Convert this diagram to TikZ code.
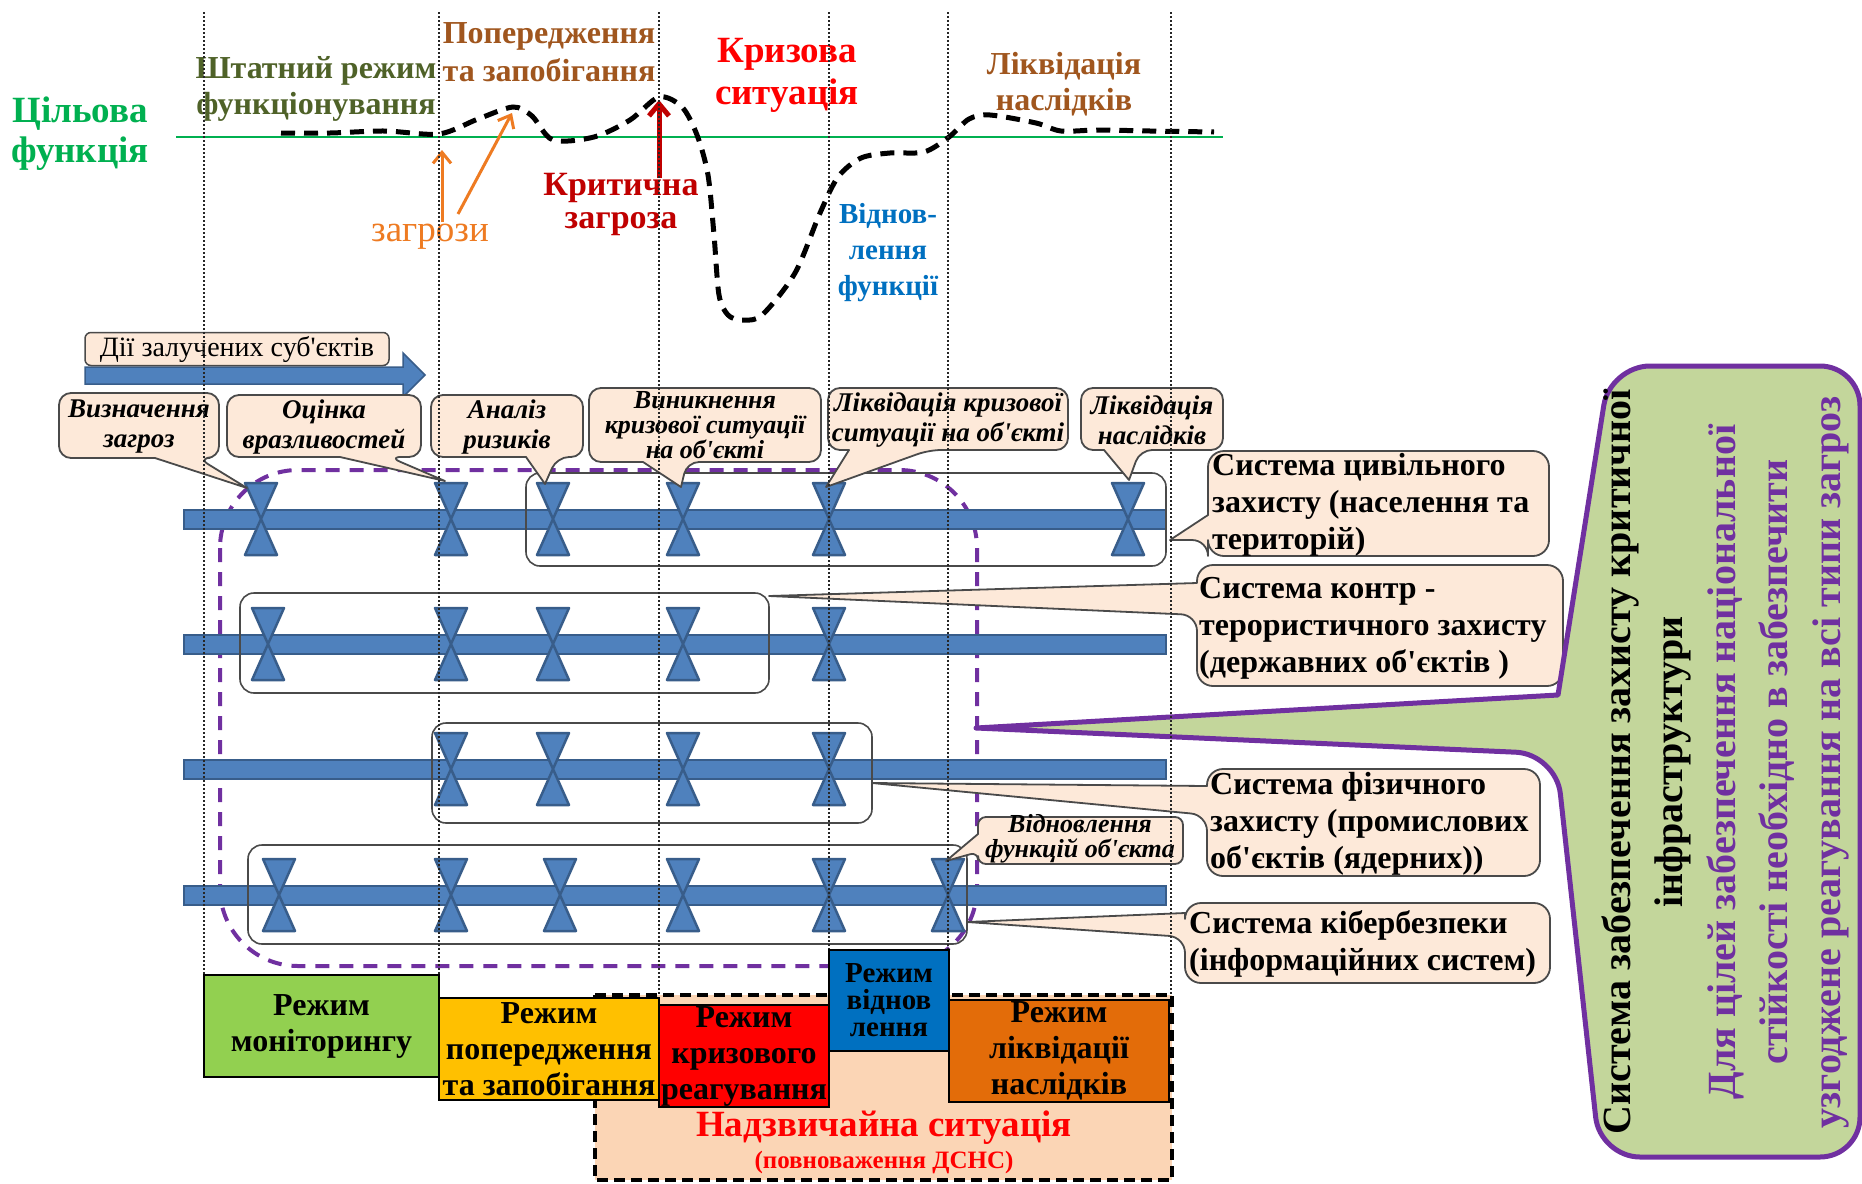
\documentclass[tikz,border=0pt]{standalone}
\usepackage{fontspec}
\setmainfont{Liberation Serif}
\usetikzlibrary{arrows.meta}
\definecolor{tgreen}{HTML}{00B050}
\definecolor{olivec}{HTML}{4F6228}
\definecolor{brownc}{HTML}{A0561E}
\definecolor{crisisred}{HTML}{FF0000}
\definecolor{darkredc}{HTML}{C00000}
\definecolor{orangec}{HTML}{EE7B22}
\definecolor{bluec}{HTML}{0070C0}
\definecolor{pipe}{HTML}{4F81BD}
\definecolor{pipeedge}{HTML}{385D8A}
\definecolor{peach}{HTML}{FDE9D9}
\definecolor{purp}{HTML}{7030A0}
\definecolor{sage}{HTML}{C3D69B}
\definecolor{mgreen}{HTML}{92D050}
\definecolor{myellow}{HTML}{FFC000}
\definecolor{mblue}{HTML}{0070C0}
\definecolor{morange}{HTML}{E36C09}
\definecolor{emerg}{HTML}{FBD5B5}
\definecolor{edgegray}{HTML}{4A4A4A}
\newcommand\ap{\textquotesingle}
% bottom-pointer callout: x1 y1 x2 y2 b1 b2 tx ty r
\newcommand\bcall[9]{\filldraw[callst] ({(#1+#3)/2},#2) [rounded corners=#9] -- (#3,#2) -- (#3,#4) -- (#6,#4) [sharp corners] -- (#7,#8) -- (#5,#4) [rounded corners=#9] -- (#1,#4) -- (#1,#2) -- cycle;}
% left-pointer callout: x1 y1 x2 y2 b1 b2 tx ty r
\newcommand\lcall[9]{\filldraw[callst] ({(#1+#3)/2},#2) [rounded corners=#9] -- (#3,#2) -- (#3,#4) -- (#1,#4) -- (#1,#6) [sharp corners] -- (#7,#8) -- (#1,#5) [rounded corners=#9] -- (#1,#2) -- cycle;}
\newcommand\valve[2]{\begin{scope}[shift={(#1,#2)}]\filldraw[valvest] (-16,-36) -- (16,-36) -- (0,0) -- cycle (-16,36) -- (16,36) -- (0,0) -- cycle;\end{scope}}
\newcommand\pipebar[1]{\filldraw[pipest] (184,#1-9.5) rectangle (1166,#1+9.5);}
\begin{document}
\begin{tikzpicture}[x=1pt,y=-1pt,
  hdr/.style={inner sep=0pt, align=center},
  callst/.style={fill=peach, draw=edgegray, line width=1.8pt, line join=round},
  ctext/.style={inner sep=0pt, align=center, font=\fontsize{27}{30}\selectfont\bfseries\itshape},
  systext/.style={inner sep=0pt, align=left, anchor=west, font=\fontsize{32}{37}\selectfont\bfseries},
  valvest/.style={fill=pipe, draw=pipeedge, line width=2.5pt, line join=round},
  pipest/.style={fill=pipe, draw=pipeedge, line width=2pt},
  grp/.style={draw=edgegray, line width=1.6pt, rounded corners=14pt},
  mode/.style={draw=black, line width=1.2pt, inner sep=0pt, align=center, font=\fontsize{32}{36}\selectfont\bfseries},
  vline/.style={draw=black!85, line width=1.1pt, dash pattern=on 2pt off 2pt},
  curve/.style={draw=black, line width=5pt, dash pattern=on 14pt off 9pt},
  oarrow/.style={draw=orangec, line width=3pt, -{Straight Barb[length=11pt,width=18pt]}},
  rarrow/.style={draw=darkredc, line width=5pt, -{Straight Barb[length=12pt,width=20pt]}}
]
\useasboundingbox[fill=white] (0,0) rectangle (1862,1183);

% ---------- top: target function ----------
\draw[tgreen, line width=2.5pt] (176,137) -- (1223,137);
\draw[curve] plot[smooth, tension=0.5] coordinates {(281,133) (330,133) (385,131) (439,134) (478,119) (513,107) (532,116) (553,140) (594,137) (630,120) (659,97) (682,107) (697,135) (708,175) (714,235) (719,295) (728,315) (742,320) (762,315) (795,273) (820,213) (838,177) (861,158) (890,153) (924,152) (949,137) (969,119) (990,115) (1036,123) (1061,131) (1098,130) (1150,131) (1214,132)};

\coordinate (o1s) at (442,222); \coordinate (o1e) at (442,150);
\coordinate (o2s) at (458,214); \coordinate (o2e) at (512,113);
\coordinate (r1s) at (659,178); \coordinate (r1e) at (659,100);
\draw[oarrow] (o1s) -- (o1e);
\draw[oarrow] (o2s) -- (o2e);
\draw[rarrow] (r1s) -- (r1e);

\node[hdr, text=tgreen, font=\fontsize{37}{40}\selectfont\bfseries] (cf) at (80,134) {Цільова\\функція};
\node[hdr, text=olivec, font=\fontsize{32}{36}\selectfont\bfseries] (shr) at (316,89) {Штатний режим\\функціонування};
\node[hdr, text=brownc, font=\fontsize{32}{38}\selectfont\bfseries] (pz) at (549,52) {Попередження\\та запобігання};
\node[hdr, text=crisisred, font=\fontsize{37}{42}\selectfont\bfseries] (ks) at (787,75) {Кризова\\ситуація};
\node[hdr, text=brownc, font=\fontsize{32}{36}\selectfont\bfseries] (ln) at (1064,84) {Ліквідація\\наслідків};
\node[hdr, text=darkredc, font=\fontsize{34}{33}\selectfont\bfseries] (kz) at (621,204) {Критична\\загроза};
\node[hdr, text=orangec, font=\fontsize{37}{40}\selectfont] (zg) at (430,237) {загрози};
\node[hdr, text=bluec, font=\fontsize{29}{36}\selectfont\bfseries] (vf) at (888,253) {Віднов-\\лення\\функції};

% ---------- actions arrow ----------
\filldraw[fill=pipe, draw=pipeedge, line width=1.5pt] (85,367) -- (403,367) -- (403,353) -- (425,375) -- (403,397) -- (403,384) -- (85,384) -- cycle;
\node[draw=edgegray, fill=peach, line width=1.5pt, rounded corners=6pt, minimum width=304pt, minimum height=33pt, inner sep=0pt, font=\fontsize{28}{30}\selectfont] (dii) at (237,349) {Дії залучених суб\ap єктів};

% ---------- purple dashed region ----------
\draw[purp, line width=4pt, dash pattern=on 14pt off 10pt, rounded corners=78pt] (220,470) rectangle (977,966);

% ---------- pipes and valves ----------
\pipebar{519}
\pipebar{644}
\pipebar{769}
\pipebar{895}
\foreach \x in {261,451,553,683,829,1128} {\valve{\x}{519}}
\foreach \x in {268,451,553,683,829} {\valve{\x}{644}}
\foreach \x in {451,553,683,829} {\valve{\x}{769}}
\foreach \x in {279,451,560,683,829,948} {\valve{\x}{895}}

\draw[grp] (526,473) rectangle (1166,566);
\draw[grp] (240,593) rectangle (769,693);
\draw[grp] (432,723) rectangle (872,823);
\draw[grp] (248,845) rectangle (967,944);

% ---------- callouts row ----------
\bcall{59}{393}{219}{458}{155}{198}{247}{488}{12}
\bcall{227}{395}{421}{457}{340}{389}{445}{481}{12}
\bcall{431}{395}{583}{457}{526}{557}{545}{484}{12}
\bcall{589}{388}{821}{462}{643}{687}{681}{487}{12}
\bcall{828}{388}{1068}{450}{849}{929}{826}{487}{12}
\bcall{1081}{388}{1223}{450}{1104}{1140}{1129}{480}{12}
\node[ctext] (t1) at (139,427) {Визначення\\загроз};
\node[ctext] (t2) at (324,427) {Оцінка\\вразливостей};
\node[ctext] (t3) at (507,427) {Аналіз\\ризиків};
\node[ctext, font=\fontsize{26}{25}\selectfont\bfseries\itshape] (t4) at (705,425) {Виникнення\\кризової ситуації\\на об\ap єкті};
\node[ctext] (t5) at (948,420) {Ліквідація кризової\\ситуації на об\ap єкті};
\node[ctext] (t6) at (1152,420) {Ліквідація\\наслідків};

\lcall{978}{817}{1183}{864}{834}{852}{946}{861}{8}
\node[ctext, font=\fontsize{26}{25}\selectfont\bfseries\itshape] (t7) at (1080,839) {Відновлення\\функцій об\ap єкта};

% ---------- system callouts ----------
\lcall{1208}{451}{1549}{556}{515}{540}{1170}{540}{16}
\lcall{1197}{565}{1563}{686}{583}{615}{769}{596}{16}
\lcall{1207}{769}{1540}{876}{786}{815}{872}{783}{16}
\lcall{1185}{903}{1550}{983}{913}{937}{967}{922}{16}
\node[systext] (s1) at (1212,505) {Система цивільного\\захисту (населення та\\територій)};
\node[systext] (s2) at (1199,628) {Система контр -\\терористичного захисту\\(державних об\ap єктів )};
\node[systext] (s3) at (1210,824) {Система фізичного\\захисту (промислових\\об\ap єктів (ядерних))};
\node[systext] (s4) at (1189,944) {Система кібербезпеки\\(інформаційних систем)};

% ---------- big green callout ----------
\filldraw[fill=sage, draw=purp, line width=5pt, line join=round] (1735,366) [rounded corners=40pt] -- (1860,366) -- (1860,1157) -- (1600,1157) -- (1556,754) [sharp corners] -- (976,728) -- (1558,695) [rounded corners=40pt] -- (1610,366) -- cycle;
\node[rotate=90, align=center, inner sep=0pt, font=\fontsize{40}{52.5}\selectfont\bfseries] (gtext) at (1725,762) {Система забезпечення захисту критичної\\інфраструктури\\\textcolor{purp}{Для цілей забезпечення національної}\\\textcolor{purp}{стійкості необхідно в забезпечити}\\\textcolor{purp}{узгоджене реагування на всі типи загроз}};

% ---------- vertical dotted lines ----------
\draw[vline] (204,12) -- (204,975);
\draw[vline] (439,12) -- (439,998);
\draw[vline] (659,12) -- (659,1005);
\draw[vline] (829,12) -- (829,950);
\draw[vline] (948,12) -- (948,950);
\draw[vline] (1171,12) -- (1171,995);

% ---------- modes ----------
\draw[fill=emerg, draw=black, line width=4pt, dash pattern=on 11pt off 6pt] (595,995) rectangle (1172,1180);
\node[text=crisisred, inner sep=0pt, font=\fontsize{37}{40}\selectfont\bfseries] (ns) at (884,1128) {Надзвичайна ситуація};
\node[text=crisisred, inner sep=0pt, font=\fontsize{25}{28}\selectfont\bfseries] (ns2) at (884,1162) {(повноваження ДСНС)};

\node[mode, fill=mgreen, minimum width=235pt, minimum height=102pt] (m1) at (321.5,1026) {Режим\\моніторингу};
\node[mode, fill=myellow, minimum width=220pt, minimum height=102pt] (m2) at (549,1049) {Режим\\попередження\\та запобігання};
\node[mode, fill=crisisred, minimum width=170pt, minimum height=102pt] (m3) at (744,1056) {Режим\\кризового\\реагування};
\node[mode, fill=mblue, minimum width=120pt, minimum height=101pt, font=\fontsize{29}{27}\selectfont\bfseries] (m4) at (889,1000.5) {Режим\\віднов\\лення};
\node[mode, fill=morange, minimum width=220pt, minimum height=102pt] (m5) at (1059,1051) {Режим\\ліквідації\\наслідків};
\end{tikzpicture}
\end{document}
